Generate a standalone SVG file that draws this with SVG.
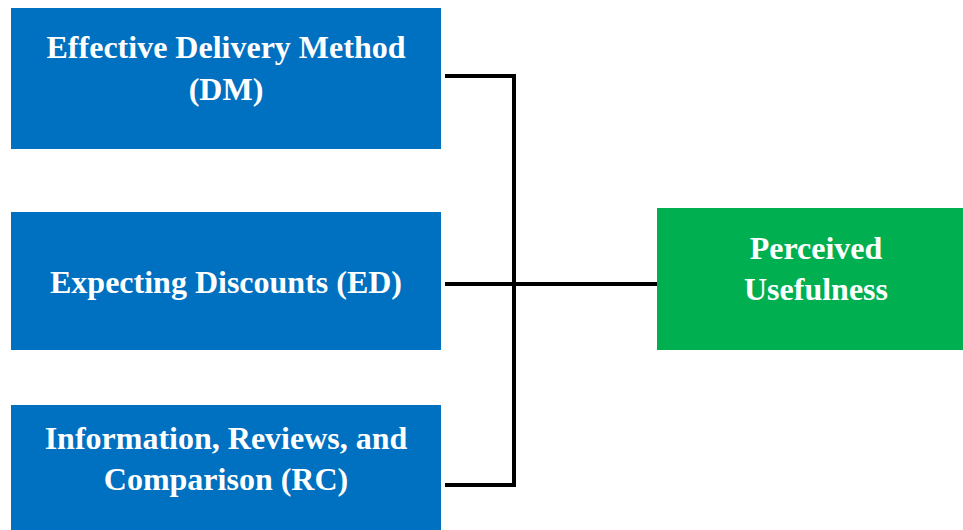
<svg xmlns="http://www.w3.org/2000/svg" width="963" height="530" viewBox="0 0 963 530">
  <style>
    .src { fill: #0070C0; }
    .dst { fill: #00B050; }
    .lbl { font-family: "Liberation Serif", "Times New Roman", serif; font-weight: bold; font-size: 32px; fill: #ffffff; text-anchor: middle; }
    .wire { stroke: #000000; stroke-width: 4; fill: none; }
  </style>
  <rect width="963" height="530" fill="#ffffff"/>

  <g id="connectors">
    <path class="wire" d="M445 76 H514 V485 H445"/>
    <path class="wire" d="M445 284 H657"/>
  </g>

  <g id="node-dm">
    <rect class="src" x="11" y="8" width="430" height="141"/>
    <text class="lbl" x="226" y="58">Effective Delivery Method</text>
    <text class="lbl" x="226" y="100">(DM)</text>
  </g>

  <g id="node-ed">
    <rect class="src" x="11" y="212" width="430" height="138"/>
    <text class="lbl" x="226" y="293">Expecting Discounts (ED)</text>
  </g>

  <g id="node-rc">
    <rect class="src" x="11" y="405" width="430" height="125"/>
    <text class="lbl" x="226" y="449">Information, Reviews, and</text>
    <text class="lbl" x="226" y="490">Comparison (RC)</text>
  </g>

  <g id="node-pu">
    <rect class="dst" x="657" y="208" width="306" height="142"/>
    <text class="lbl" x="816" y="259">Perceived</text>
    <text class="lbl" x="816" y="300">Usefulness</text>
  </g>
</svg>
